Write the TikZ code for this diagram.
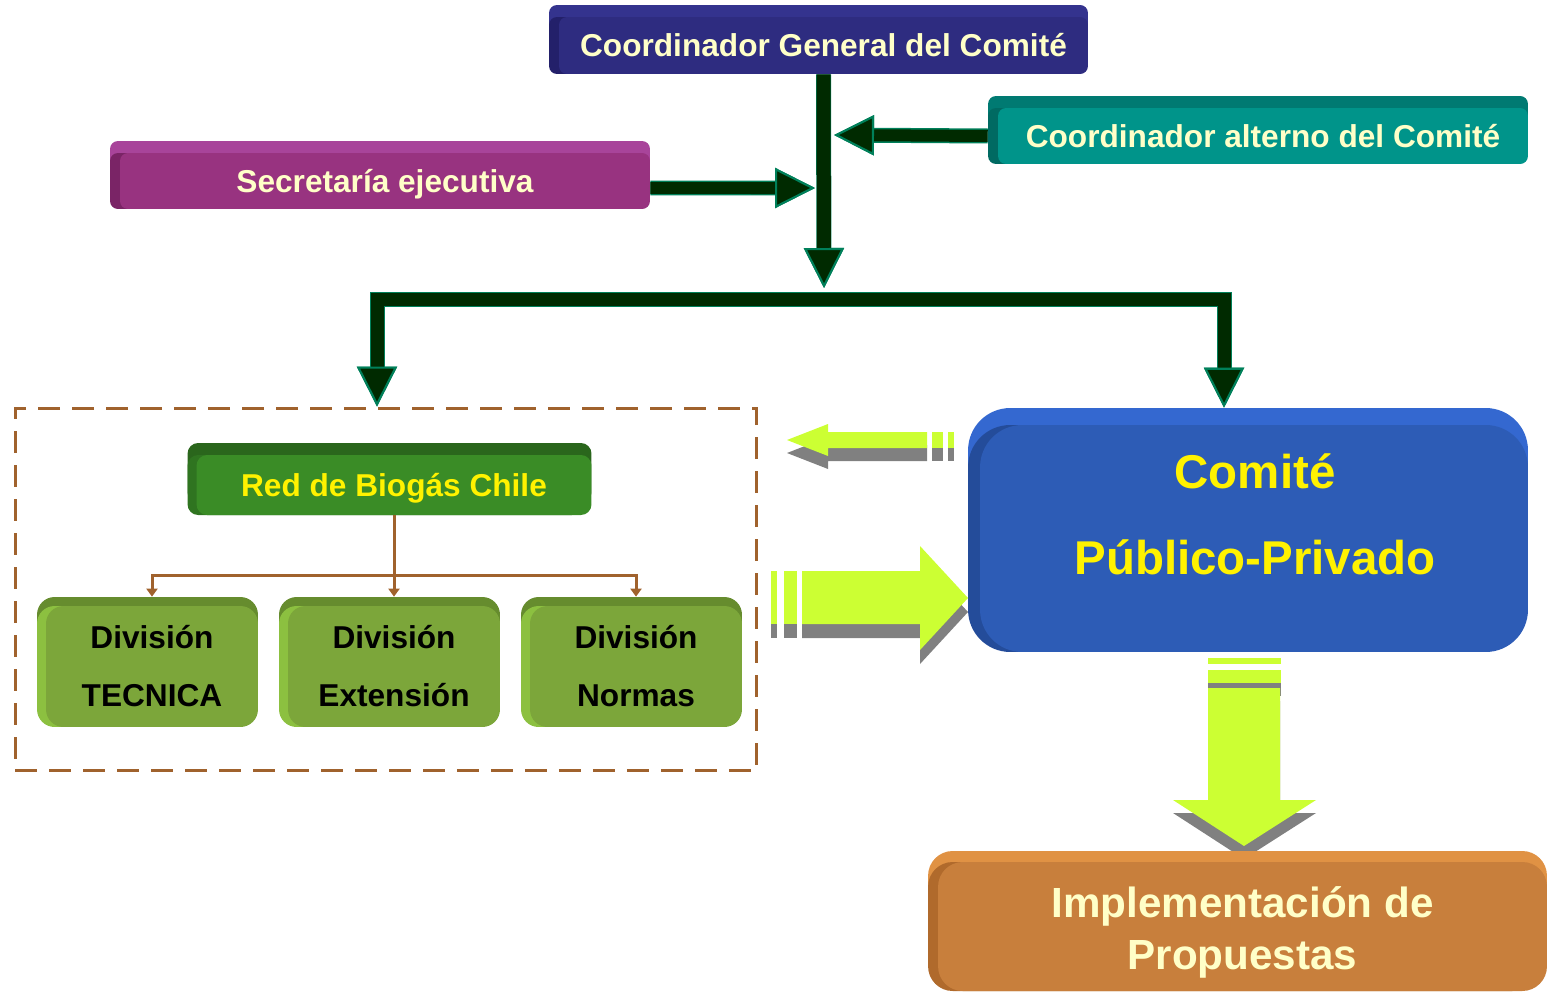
\documentclass[tikz,border=0pt]{standalone}
\usepackage{fontspec}
\setmainfont{Liberation Sans}
\usetikzlibrary{arrows.meta,shadows}

\definecolor{navyface}{HTML}{2E2C80}
\definecolor{navytop}{HTML}{34338E}
\definecolor{navyside}{HTML}{23206A}
\definecolor{tealface}{HTML}{00948A}
\definecolor{tealtop}{HTML}{007A72}
\definecolor{tealside}{HTML}{006A62}
\definecolor{magface}{HTML}{983380}
\definecolor{magtop}{HTML}{A8449A}
\definecolor{magside}{HTML}{7A2466}
\definecolor{redface}{HTML}{3A8C26}
\definecolor{redtop}{HTML}{2A661C}
\definecolor{redside}{HTML}{2F7420}
\definecolor{divface}{HTML}{7CA63A}
\definecolor{divtop}{HTML}{668C2E}
\definecolor{divside}{HTML}{8CC040}
\definecolor{comface}{HTML}{2D5CB6}
\definecolor{comtop}{HTML}{3468D0}
\definecolor{comside}{HTML}{244C9A}
\definecolor{impface}{HTML}{C87F3C}
\definecolor{imptop}{HTML}{E09244}
\definecolor{impside}{HTML}{B06A2C}
\definecolor{cream}{HTML}{FFFFC8}
\definecolor{gdark}{HTML}{002A00}
\definecolor{gedge}{HTML}{00805A}
\definecolor{brn}{HTML}{A0622D}
\definecolor{lime}{HTML}{CCFF33}
\definecolor{shadowgray}{HTML}{808080}

\tikzset{
  box/.style={inner sep=0pt, font=\bfseries\fontsize{18}{22}\selectfont},
  onerow/.style={text height=12.9pt, text depth=0pt},
  bevel/.style n args={4}{
    copy shadow={draw=none, fill=#1, shadow xshift=-#3, shadow yshift=#4},
    copy shadow={draw=none, fill=#1, shadow xshift=0pt, shadow yshift=#4},
    copy shadow={draw=none, fill=#2, shadow xshift=-#3, shadow yshift=0pt}},
  gtip/.tip={Triangle[length=0.8cm, width=0.8cm, color=gedge, fill=gdark, line width=1.2pt]},
  conn/.style={draw=gdark, preaction={draw=gedge, line width=0.3cm}, line width=0.24cm, -gtip},
  brnline/.style={draw=brn, line width=0.06cm},
}

\newcommand{\leftblock}[1]{%
  \fill[#1] (927,432) -- (828,432) -- (828,424) -- (787,440) -- (828,456) -- (828,448) -- (927,448) -- cycle;
  \fill[#1] (932,432) rectangle (943,448);
  \fill[#1] (948,432) rectangle (954,448);}
\newcommand{\rightblock}[1]{%
  \fill[#1] (802,571) -- (920,571) -- (920,546) -- (968,598) -- (920,650) -- (920,624) -- (802,624) -- cycle;
  \fill[#1] (771,571) rectangle (777,624);
  \fill[#1] (784,571) rectangle (797,624);}
\newcommand{\downblock}[1]{%
  \fill[#1] (1208,688) -- (1280,688) -- (1280,800) -- (1316,800) -- (1244,846) -- (1173,800) -- (1208,800) -- cycle;
  \fill[#1] (1208,658) rectangle (1281,664);
  \fill[#1] (1208,670) rectangle (1281,683);}

\begin{document}
\begin{tikzpicture}[x=0.02cm,y=-0.02cm]
  \useasboundingbox (0,0) rectangle (1554,997);

  %% top boxes
  \node[box, onerow, rounded corners=4.5pt, fill=navyface, text=cream, minimum width=10.58cm, minimum height=1.14cm,
        bevel={navytop}{navyside}{0.2cm}{0.24cm}] (cg) at (823.5,45.5) {Coordinador General del Comit\'e};
  \node[box, onerow, rounded corners=4.5pt, fill=tealface, text=cream, minimum width=10.6cm, minimum height=1.12cm,
        bevel={tealtop}{tealside}{0.2cm}{0.24cm}] (alt) at (1263,136) {Coordinador alterno del Comit\'e};
  \node[box, onerow, rounded corners=4.5pt, fill=magface, text=cream, minimum width=10.6cm, minimum height=1.12cm,
        bevel={magtop}{magside}{0.2cm}{0.24cm}] (sec) at (385,181) {Secretar\'ia ejecutiva};
  \coordinate (hub) at (824,288);
  \coordinate (secin) at (815,188);
  \coordinate (altin) at (834,135);

  \draw[conn, line width=0.28cm, preaction={line width=0.34cm}] (cg.south) -- (hub);
  \draw[conn] ([yshift=-0.14cm]sec.east) -- (secin);
  \draw[conn] ([xshift=-0.2cm]alt.west) -- (altin);

  %% left group
  \node[draw=brn, line width=0.06cm, dash pattern=on 0.44cm off 0.24cm, minimum width=14.84cm, minimum height=7.26cm] (grp) at (386,589.5) {};
  \node[box, onerow, rounded corners=6pt, fill=redface, text=yellow, minimum width=7.9cm, minimum height=1.2cm,
        bevel={redtop}{redside}{0.18cm}{0.24cm}] (red) at (394,485) {Red de Biog\'as Chile};
  \node[box, rounded corners=10pt, fill=divface, align=center, font=\bfseries\fontsize{18}{33}\selectfont, minimum width=4.24cm, minimum height=2.42cm,
        bevel={divtop}{divside}{0.18cm}{0.18cm}] (divtec) at (152,666.5) {Divisi\'on\\TECNICA};
  \node[box, rounded corners=10pt, fill=divface, align=center, font=\bfseries\fontsize{18}{33}\selectfont, minimum width=4.24cm, minimum height=2.42cm,
        bevel={divtop}{divside}{0.18cm}{0.18cm}] (divext) at (394,666.5) {Divisi\'on\\Extensi\'on};
  \node[box, rounded corners=10pt, fill=divface, align=center, font=\bfseries\fontsize{18}{33}\selectfont, minimum width=4.24cm, minimum height=2.42cm,
        bevel={divtop}{divside}{0.18cm}{0.18cm}] (divnor) at (636,666.5) {Divisi\'on\\Normas};
  \coordinate (split) at (394,575);
  \draw[brnline] (red.south) -- (split);
  \draw[brnline, -{Triangle[length=0.16cm, width=0.22cm]}] (split) -- ([yshift=0.18cm]divext.north);
  \draw[brnline, -{Triangle[length=0.16cm, width=0.22cm]}] (split) -| ([yshift=0.18cm]divtec.north);
  \draw[brnline, -{Triangle[length=0.16cm, width=0.22cm]}] (split) -| ([yshift=0.18cm]divnor.north);

  %% right side
  \node[box, rounded corners=24pt, fill=comface, minimum width=10.96cm, minimum height=4.54cm,
        bevel={comtop}{comside}{0.24cm}{0.34cm}] (comite) at (1254,538.5) {};
  \node[text=yellow, align=center, font=\bfseries\fontsize{27}{49}\selectfont] (comitetxt) at (1255,514.5) {Comit\'e\\P\'ublico-Privado};

  \draw[conn, line width=0.26cm, preaction={line width=0.32cm}, gtip-gtip]
    ([xshift=-0.18cm]grp.north) -- ++(0,-107) -| ([xshift=-0.6cm,yshift=0.34cm]comite.north);

  %%%%%%%%%%%%%%%%%%%%% lime arrows
  \leftblock{shadowgray, shift={(0,13)}}
  \rightblock{shadowgray, shift={(0,14)}}
  \downblock{shadowgray, shift={(0,13)}}
  \leftblock{lime}
  \rightblock{lime}
  \downblock{lime}

  %% bottom box
  \node[box, rounded corners=14pt, fill=impface, minimum width=12.18cm, minimum height=2.58cm,
        bevel={imptop}{impside}{0.2cm}{0.22cm}] (impl) at (1242.5,926.5) {};
  \node[text=cream, align=center, font=\bfseries\fontsize{24}{29.5}\selectfont] (impltxt) at (1242.5,932.5) {Implementaci\'on de\\Propuestas};
\end{tikzpicture}
\end{document}
